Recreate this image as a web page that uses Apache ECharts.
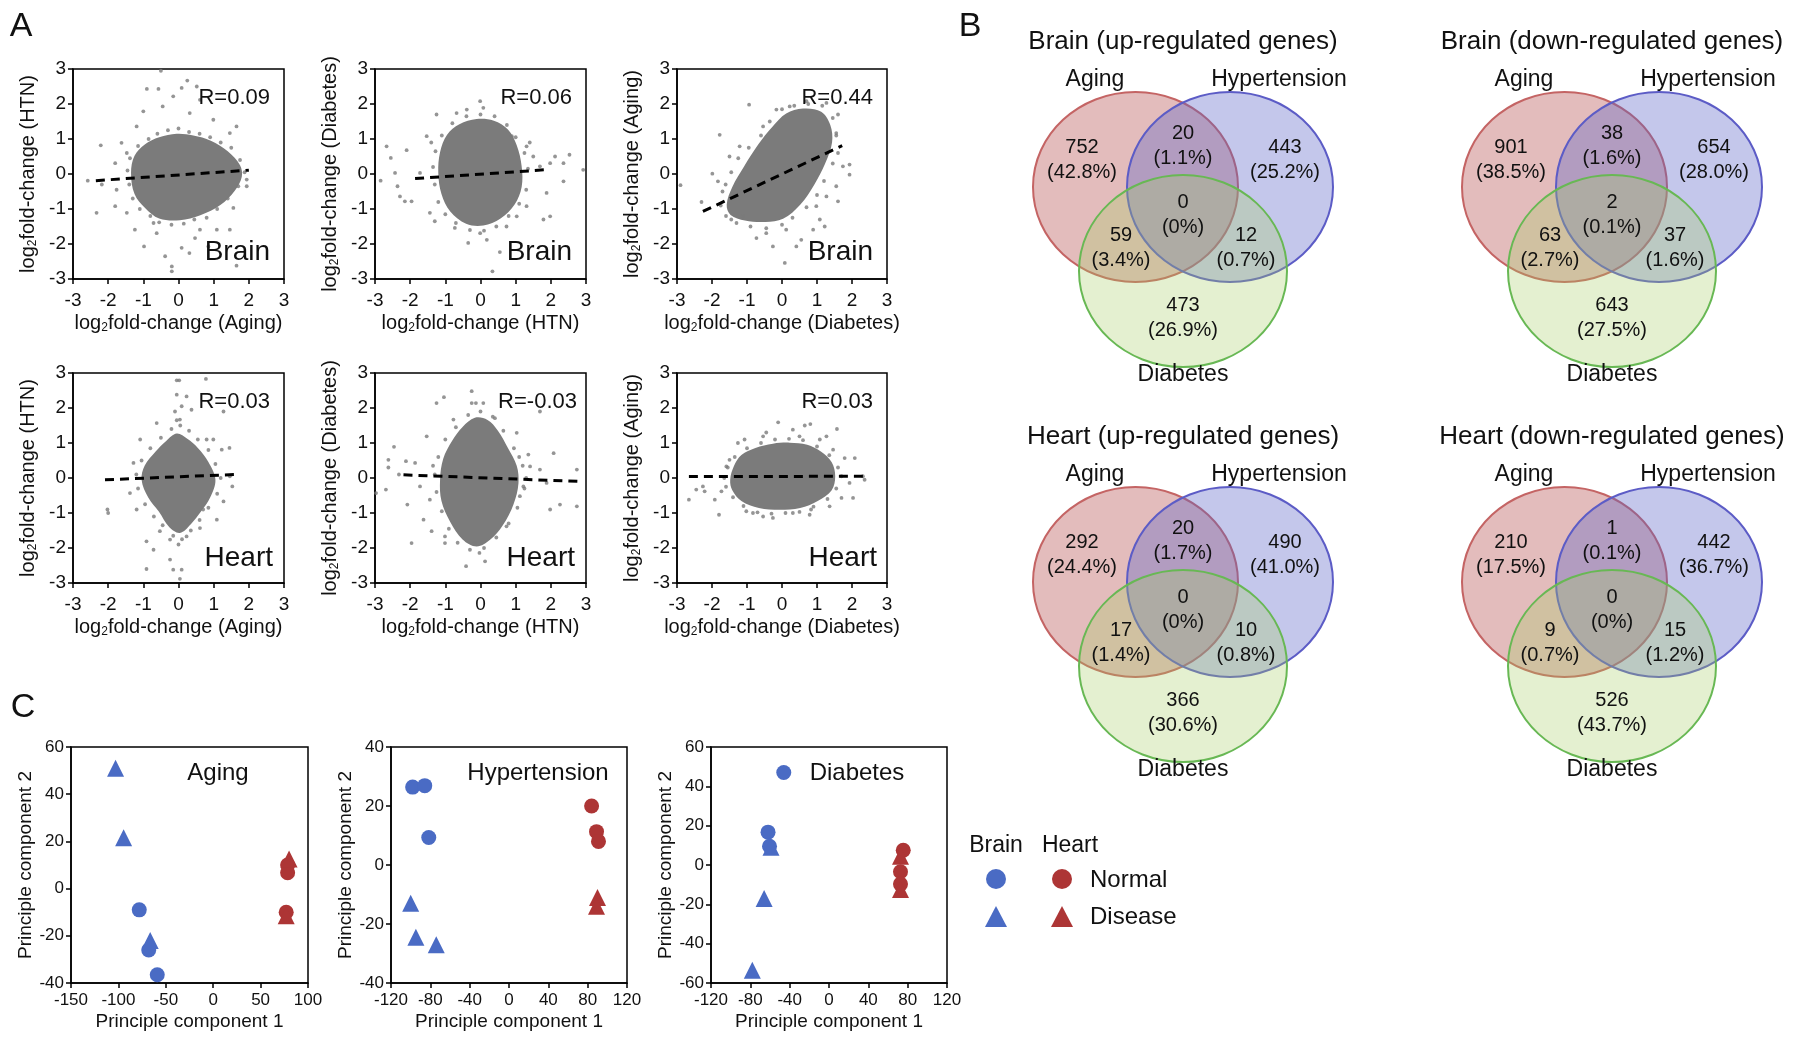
<!DOCTYPE html>
<html><head><meta charset="utf-8">
<script src="https://cdn.jsdelivr.net/npm/echarts@6/dist/echarts.min.js"></script>
<style>html,body{margin:0;padding:0;background:#fff}#c{width:1800px;height:1041px}</style>
</head><body><div id="c"></div>
<script>
// ---------------- DATA ----------------
// Panel A: dense-core outlines (data units), individual outlying points and edge points
const a1Core = [[-1.35,0.03],[-1.25,0.52],[-0.95,0.85],[-0.55,1.05],[-0.05,1.15],[0.42,1.10],[0.92,0.95],[1.40,0.65],[1.75,0.25],[1.80,-0.08],[1.60,-0.48],[1.20,-0.88],[0.62,-1.18],[0.04,-1.32],[-0.55,-1.27],[-0.95,-0.97],[-1.25,-0.57]];
const a1Pts = [[-0.5,2.95],[-0.9,2.43],[-0.57,2.43],[0.09,2.46],[0.25,2.67],[0.52,2.5],[-0.15,2.22],[-0.45,1.93],[-1.0,1.79],[-1.19,1.36],[-1.62,0.89],[-1.8,0.31],[-2.21,0.82],[-2.58,-0.19],[-2.33,-1.11],[-2.18,-0.3],[-1.76,-0.45],[-1.8,-0.92],[-1.24,-1.59],[-0.98,-2.07],[-0.62,-1.69],[-0.38,-2.35],[-0.19,-2.64],[-0.19,-2.78],[0.09,-2.11],[0.31,-2.26],[0.47,-1.83],[1.09,-1.59],[1.46,-1.59],[1.65,-2.62],[1.56,-0.97],[1.94,-0.16],[1.65,1.36],[1.46,1.17],[0.99,1.55],[0.61,2.12],[0.32,1.74],[0.85,-2.07],[1.94,-0.35],[0.61,-1.59],[-0.71,-1.40],[-1.47,-1.11],[-1.47,0.6]];
const a1Edge = [[-1.45,0.1],[-1.4,-0.3],[-1.38,0.45],[-1.3,-0.7],[-1.15,0.8],[-1.1,-1.0],[-0.85,1.0],[-0.8,-1.2],[-0.6,1.15],[-0.55,-1.38],[-0.3,1.25],[-0.2,-1.45],[0.0,1.3],[0.15,-1.42],[0.3,1.2],[0.45,-1.3],[0.6,1.15],[0.8,-1.25],[0.9,1.05],[1.1,-1.0],[1.2,0.9],[1.4,-0.7],[1.5,0.75],[1.7,-0.35],[1.75,0.4],[1.88,0.05]];
const a1Fit = [[-2.35,-0.19],[2.0,0.11]];

const a2Core = [[-1.2,0.03],[-1.15,0.62],[-0.95,1.12],[-0.6,1.42],[-0.11,1.57],[0.38,1.52],[0.78,1.27],[1.03,0.82],[1.17,0.22],[1.17,-0.37],[0.97,-0.87],[0.57,-1.27],[0.08,-1.47],[-0.41,-1.42],[-0.86,-1.07],[-1.11,-0.57]];
const a2Pts = [[-2.84,-0.19],[-2.67,0.79],[-2.55,0.46],[-2.43,0.03],[-2.36,-0.35],[-2.29,-0.64],[-2.1,0.68],[-2.15,-0.78],[-1.96,-0.78],[-1.72,0.03],[-1.53,1.08],[-1.25,1.70],[-1.44,-1.11],[-1.30,-1.35],[-0.73,-1.54],[-0.35,-1.97],[-0.01,-1.69],[0.18,-1.88],[0.55,-2.23],[0.34,-2.78],[-0.01,2.08],[0.08,1.89],[-0.68,1.74],[0.89,1.08],[1.31,0.79],[1.50,0.50],[1.69,0.22],[1.88,-0.54],[1.98,0.31],[2.12,0.50],[2.36,0.31],[2.53,0.55],[2.36,-0.21],[2.92,0.12],[1.79,-1.30],[1.98,-1.21],[1.31,-0.92],[1.03,-1.21],[0.74,-1.50],[-0.39,1.84]];
const a2Edge = [[-1.35,0.2],[-1.3,-0.3],[-1.28,0.65],[-1.2,-0.8],[-1.1,1.1],[-1.0,-1.15],[-0.8,1.45],[-0.7,-1.4],[-0.4,1.65],[-0.3,-1.6],[0.0,1.7],[0.1,-1.62],[0.4,1.65],[0.45,-1.5],[0.75,1.4],[0.8,-1.2],[1.0,1.05],[1.1,-0.85],[1.25,0.6],[1.3,-0.45],[1.35,0.15],[1.4,0.9],[-1.4,0.9]];
const a2Fit = [[-1.86,-0.13],[1.83,0.12]];

const a3Core = [[-1.58,-0.88],[-1.42,-0.37],[-1.08,0.22],[-0.68,0.84],[-0.28,1.34],[0.12,1.73],[0.60,1.87],[1.12,1.78],[1.38,1.40],[1.43,0.90],[1.23,0.29],[0.93,-0.29],[0.52,-0.88],[0.03,-1.28],[-0.47,-1.37],[-1.06,-1.33],[-1.47,-1.17]];
const a3Pts = [[-2.90,-0.32],[-2.30,-0.80],[-1.99,0.01],[-1.83,-0.21],[-1.78,1.12],[-1.61,-0.30],[-0.94,1.98],[-1.50,0.50],[-1.21,0.79],[-1.45,-1.30],[-0.73,-1.83],[-0.45,-1.69],[-0.26,-2.07],[0.08,-2.54],[0.41,-2.07],[0.55,-1.88],[0.12,-1.59],[0.89,-1.59],[1.08,-1.30],[1.22,-1.50],[1.60,-0.78],[1.55,-0.35],[1.93,0.27],[1.93,-0.02],[1.74,0.22],[1.60,1.70],[1.55,1.17],[1.27,2.03],[0.70,2.08],[0.22,1.93],[-0.16,1.84],[-0.54,1.36],[0.98,-0.92],[-1.11,-1.21],[1.27,-0.64]];
const a3Edge = [[-1.75,-0.9],[-1.7,-0.5],[-1.6,-1.2],[-1.45,0.05],[-1.3,-1.4],[-1.25,0.45],[-0.95,0.75],[-0.9,-1.5],[-0.6,1.1],[-0.45,-1.55],[-0.35,1.5],[0.0,-1.45],[0.0,1.85],[0.3,-1.25],[0.35,1.95],[0.7,-0.95],[0.75,2.0],[1.0,-0.6],[1.15,1.95],[1.2,-0.2],[1.45,1.6],[1.45,0.3],[1.55,1.1],[1.6,0.6]];
const a3Fit = [[-2.26,-1.07],[1.72,0.81]];

const a4Core = [[-1.05,-0.05],[-0.96,0.36],[-0.65,0.76],[-0.35,1.06],[-0.05,1.27],[0.25,1.12],[0.55,0.86],[0.85,0.46],[1.05,-0.05],[0.9,-0.56],[0.64,-0.96],[0.35,-1.32],[0.04,-1.57],[-0.26,-1.41],[-0.56,-0.96],[-0.86,-0.56]];
const a4Pts = [[-0.05,2.79],[0.02,2.79],[0.78,2.83],[-0.05,2.38],[0.23,2.33],[0.09,2.05],[-0.10,1.90],[0.37,1.95],[1.28,1.90],[0.04,1.67],[-0.62,1.57],[0.80,1.10],[0.99,1.10],[1.45,0.86],[1.23,0.81],[-1.09,1.10],[-1.28,0.43],[-2.02,-0.90],[-2.0,-1.0],[-1.19,-0.90],[-1.38,-0.43],[1.53,-0.24],[1.28,-0.67],[1.09,-1.19],[0.61,-1.43],[-0.91,-1.81],[-0.71,-2.05],[-0.91,-2.60],[-0.24,-2.33],[-0.15,-2.62],[0.09,-2.62],[0.04,-2.88],[-0.24,-1.76],[0.23,-1.67],[-0.53,-1.52],[0.70,-0.90],[1.46,0.05]];
const a4Edge = [[-1.2,0.1],[-1.15,-0.3],[-1.05,0.5],[-0.95,-0.75],[-0.8,0.85],[-0.7,-1.1],[-0.5,1.15],[-0.45,-1.35],[-0.2,1.4],[-0.15,-1.65],[0.05,1.5],[0.1,-1.75],[0.3,1.35],[0.35,-1.5],[0.55,1.1],[0.6,-1.2],[0.85,0.8],[0.85,-0.85],[1.05,0.4],[1.1,-0.45],[1.2,0.0],[0.0,-1.9],[-0.05,1.65]];
const a4Fit = [[-2.09,-0.05],[1.61,0.10]];

const a5Core = [[-1.15,-0.05],[-1.06,0.55],[-0.81,1.06],[-0.51,1.46],[-0.16,1.72],[0.20,1.66],[0.49,1.36],[0.78,0.86],[1.03,0.35],[1.08,-0.15],[0.94,-0.75],[0.63,-1.36],[0.28,-1.76],[-0.11,-1.96],[-0.51,-1.76],[-0.86,-1.26],[-1.11,-0.66]];
const a5Pts = [[-2.97,-0.43],[-2.62,0.52],[-2.62,0.30],[-2.46,0.89],[-2.69,-0.33],[-2.32,0.10],[-2.12,0.48],[-2.08,-0.76],[-1.96,-1.86],[-1.86,0.43],[-1.72,-0.24],[-1.62,-1.19],[-1.53,1.19],[-1.39,-1.52],[-1.25,2.14],[-1.04,2.31],[-1.01,-1.67],[-1.01,-1.86],[-1.44,-0.62],[-0.77,1.67],[-0.41,-2.52],[-0.25,2.14],[-0.25,2.48],[-0.13,2.14],[0.08,2.14],[-0.03,-2.14],[0.13,-2.38],[-0.16,-1.86],[0.41,1.71],[1.03,1.29],[1.36,0.67],[1.41,0.33],[1.69,0.24],[1.88,-0.14],[1.98,-0.90],[2.08,0.71],[2.26,-0.76],[2.74,0.24],[2.74,-0.81],[1.69,1.90],[1.12,-0.52],[1.22,-0.24],[0.74,-1.38]];
const a5Edge = [[-1.3,0.1],[-1.25,-0.4],[-1.2,0.6],[-1.1,-0.95],[-1.0,1.1],[-0.9,-1.45],[-0.7,1.45],[-0.65,-1.85],[-0.35,1.8],[-0.3,-2.05],[0.0,1.9],[0.1,-2.0],[0.35,1.75],[0.45,-1.7],[0.65,1.35],[0.8,-1.3],[0.95,0.85],[1.05,-0.85],[1.2,0.35],[1.25,-0.3],[1.3,0.0],[1.1,0.6],[-1.35,0.35]];
const a5Fit = [[-2.19,0.09],[2.88,-0.10]];

const a6Core = [[-1.48,-0.05],[-1.37,0.35],[-1.16,0.66],[-0.76,0.86],[-0.26,0.98],[0.22,1.01],[0.72,0.95],[1.12,0.75],[1.42,0.45],[1.52,0.05],[1.42,-0.35],[1.02,-0.66],[0.52,-0.86],[-0.07,-0.91],[-0.66,-0.86],[-1.16,-0.66],[-1.42,-0.35]];
const a6Pts = [[-2.66,-0.62],[-2.45,-0.33],[-2.26,-0.24],[-2.21,-0.38],[-1.92,-0.62],[-1.80,-1.05],[-1.73,-0.38],[-1.59,0.33],[-1.50,0.52],[-1.26,1.0],[-1.07,1.10],[-0.54,1.19],[-0.45,1.30],[-0.11,1.59],[0.31,1.38],[0.50,1.19],[0.65,1.50],[0.81,1.54],[1.08,1.10],[1.57,1.40],[1.46,0.81],[1.79,0.57],[2.08,0.57],[1.93,-0.14],[2.31,0.05],[2.36,-0.05],[1.70,-0.57],[2.03,-0.57],[1.36,-0.81],[0.79,-1.05],[0.83,-0.90],[-0.26,-1.14],[-0.54,-1.10],[-0.83,-1.0],[-1.02,-0.95],[0.31,-1.0],[1.27,1.19]];
const a6Edge = [[-1.65,0.0],[-1.6,-0.25],[-1.55,0.3],[-1.4,-0.55],[-1.35,0.6],[-1.1,-0.8],[-1.0,0.85],[-0.7,-0.98],[-0.6,1.0],[-0.3,-1.02],[-0.2,1.1],[0.1,-1.0],[0.2,1.12],[0.5,-0.97],[0.6,1.08],[0.9,-0.82],[1.0,0.9],[1.3,-0.6],[1.35,0.65],[1.55,-0.3],[1.6,0.3],[1.7,0.05]];
const a6Fit = [[-2.66,0.04],[2.46,0.05]];

const aRLabels = ['R=0.09','R=0.06','R=0.44','R=0.03','R=-0.03','R=0.03'];
const aTissues = ['Brain','Brain','Brain','Heart','Heart','Heart'];
const aXNames = ['Aging','HTN','Diabetes','Aging','HTN','Diabetes'];
const aYNames = ['HTN','Diabetes','Aging','HTN','Diabetes','Aging'];
const aTicks = [-3,-2,-1,0,1,2,3];

// Panel B: Venn counts, region order: Aging only, Aging∩HTN, HTN only, Aging∩Diab, all three, HTN∩Diab, Diab only
const vennSets = ['Aging','Hypertension','Diabetes'];
const vennTitles = ['Brain (up-regulated genes)','Brain (down-regulated genes)','Heart (up-regulated genes)','Heart (down-regulated genes)'];
const brainUpCounts = [752,20,443,59,0,12,473];
const brainUpPct = ['42.8%','1.1%','25.2%','3.4%','0%','0.7%','26.9%'];
const brainDownCounts = [901,38,654,63,2,37,643];
const brainDownPct = ['38.5%','1.6%','28.0%','2.7%','0.1%','1.6%','27.5%'];
const heartUpCounts = [292,20,490,17,0,10,366];
const heartUpPct = ['24.4%','1.7%','41.0%','1.4%','0%','0.8%','30.6%'];
const heartDownCounts = [210,1,442,9,0,15,526];
const heartDownPct = ['17.5%','0.1%','36.7%','0.7%','0%','1.2%','43.7%'];

// Panel C: PCA coordinates
const agingBrainNormal = [[-78,-9],[-68,-26],[-59,-36.5]];
const agingBrainDisease = [[-103,51],[-94.5,21.5],[-66.5,-22]];
const agingHeartNormal = [[78.5,10],[78.5,6.7],[77,-10]];
const agingHeartDisease = [[80,12.5],[77,-11.5]];
const htnBrainNormal = [[-98,26.4],[-85.7,26.9],[-81.6,9.3]];
const htnBrainDisease = [[-100,-13],[-94.7,-24.5],[-74,-27]];
const htnHeartNormal = [[84,20],[89,11.3],[91,8]];
const htnHeartDisease = [[90,-11],[89,-14]];
const diabBrainNormal = [[-46,47],[-62,16.7],[-60.5,9.5]];
const diabBrainDisease = [[-59,9],[-66,-17],[-78,-53.5]];
const diabHeartNormal = [[75.5,7.5],[72.7,-3.4],[72.7,-9.7]];
const diabHeartDisease = [[72.7,4.5],[72.7,-12.5]];
const pcaTitles = ['Aging','Hypertension','Diabetes'];
const pcaXRanges = [[-150,100,50],[-120,120,40],[-120,120,40]];
const pcaYRanges = [[-40,60,20],[-40,40,20],[-60,60,20]];

// ---------------- LAYOUT / STYLE ----------------
const FONT = '"Liberation Sans", Arial, Helvetica, sans-serif';
const GRAY = '#7b7b7b';
const BLUE = '#4a6bc4';
const RED = '#ad3535';
const aGrids = [
  {left:73, top:69, width:211, height:210},
  {left:375, top:69, width:211, height:210},
  {left:677, top:69, width:210, height:210},
  {left:73, top:373, width:211, height:210},
  {left:375, top:373, width:211, height:210},
  {left:677, top:373, width:210, height:210}];
const aRInset = [14,14,14,14,9,14];
const aTInset = [14,14,14,11,11,10];
const cGrids = [
  {left:71, top:747, width:237, height:236},
  {left:391, top:747, width:236, height:236},
  {left:711, top:747, width:236, height:236}];

const aCores = [a1Core,a2Core,a3Core,a4Core,a5Core,a6Core];
const aPts = [a1Pts,a2Pts,a3Pts,a4Pts,a5Pts,a6Pts];
const aEdges = [a1Edge,a2Edge,a3Edge,a4Edge,a5Edge,a6Edge];
const aFits = [a1Fit,a2Fit,a3Fit,a4Fit,a5Fit,a6Fit];

const grids = [], xAxes = [], yAxes = [], series = [], graphics = [];
const richName = {
  a:{fontSize:20, fontFamily:FONT, color:'#111', lineHeight:22},
  s:{fontSize:12, fontFamily:FONT, color:'#111', lineHeight:12, verticalAlign:'bottom'}
};
const logName = t => '{a|log}{s|2}{a|fold-change (' + t + ')}';
function baseAxis(gi, min, max, interval, fs, margin) {
  return {
    gridIndex: gi, type:'value', min:min, max:max, interval:interval,
    axisLine:{show:true, onZero:false, lineStyle:{color:'#000', width:1.5}},
    axisTick:{show:true, inside:false, length:5, lineStyle:{color:'#000', width:1.5}},
    axisLabel:{fontSize:fs, color:'#111', fontFamily:FONT, margin:margin},
    splitLine:{show:false}, nameLocation:'middle'
  };
}

// Panel A
aGrids.forEach((g, i) => {
  grids.push(Object.assign({show:true, borderColor:'#000', borderWidth:1.5, containLabel:false, outerBoundsMode:'none'}, g));
  const xa = baseAxis(i, aTicks[0], aTicks[aTicks.length-1], 1, 19, 12);
  xa.name = logName(aXNames[i]); xa.nameGap = 33; xa.nameTextStyle = {rich: richName};
  const ya = baseAxis(i, aTicks[0], aTicks[aTicks.length-1], 1, 19, 7);
  ya.name = logName(aYNames[i]); ya.nameGap = 34; ya.nameRotate = 90; ya.nameTextStyle = {rich: richName};
  xAxes.push(xa); yAxes.push(ya);
  const core = aCores[i];
  series.push({
    type:'custom', xAxisIndex:i, yAxisIndex:i, data:core, silent:true, clip:true, z:1,
    renderItem:(params, api) => {
      if (params.dataIndex !== 0) return null;
      return {type:'polygon', shape:{points: core.map(p => api.coord(p)), smooth:0.35}, style:{fill:GRAY}};
    }
  });
  series.push({type:'scatter', xAxisIndex:i, yAxisIndex:i, data:aPts[i], symbolSize:3.8, silent:true, z:2,
    itemStyle:{color:GRAY}});
  series.push({type:'scatter', xAxisIndex:i, yAxisIndex:i, data:aEdges[i], symbolSize:3.8, silent:true, z:2,
    itemStyle:{color:GRAY}});
  series.push({type:'line', xAxisIndex:i, yAxisIndex:i, data:aFits[i], symbol:'none', silent:true, z:3,
    lineStyle:{color:'#000', width:3, type:[9,6]}});
  const right = g.left + g.width;
  graphics.push({type:'text', x: right - aRInset[i], y: g.top + 29, z:10,
    style:{text:aRLabels[i], font:'22px ' + FONT, fill:'#111', align:'right', verticalAlign:'middle', textAlign:'right', textVerticalAlign:'middle'}});
  graphics.push({type:'text', x: right - aTInset[i], y: g.top + (i < 3 ? 183 : 185), z:10,
    style:{text:aTissues[i], font:'28px ' + FONT, fill:'#111', align:'right', verticalAlign:'middle', textAlign:'right', textVerticalAlign:'middle'}});
});

// Panel C
const pcaGroups = [
  [agingBrainNormal, agingBrainDisease, agingHeartNormal, agingHeartDisease],
  [htnBrainNormal, htnBrainDisease, htnHeartNormal, htnHeartDisease],
  [diabBrainNormal, diabBrainDisease, diabHeartNormal, diabHeartDisease]];
const pcaTitleX = [218, 538, 857];
cGrids.forEach((g, k) => {
  const gi = grids.length;
  grids.push(Object.assign({show:true, borderColor:'#000', borderWidth:1.5, containLabel:false, outerBoundsMode:'none'}, g));
  const xr = pcaXRanges[k], yr = pcaYRanges[k];
  const xa = baseAxis(gi, xr[0], xr[1], xr[2], 17, 9);
  xa.name = 'Principle component 1'; xa.nameGap = 29; xa.nameTextStyle = {fontSize:19, fontFamily:FONT, color:'#111'};
  const ya = baseAxis(gi, yr[0], yr[1], yr[2], 17, 7);
  ya.name = 'Principle component 2'; ya.nameGap = 34; ya.nameRotate = 90; ya.nameTextStyle = {fontSize:19, fontFamily:FONT, color:'#111'};
  xAxes.push(xa); yAxes.push(ya);
  const grp = pcaGroups[k];
  const specs = [['circle',15,BLUE],['triangle',17,BLUE],['circle',15,RED],['triangle',17,RED]];
  grp.forEach((d, j) => {
    series.push({type:'scatter', xAxisIndex:gi, yAxisIndex:gi, data:d, symbol:specs[j][0], symbolSize:specs[j][1],
      itemStyle:{color:specs[j][2], opacity:1}, silent:true, z:2+j});
  });
  graphics.push({type:'text', x: pcaTitleX[k], y: 773, z:10,
    style:{text:pcaTitles[k], font:'24px ' + FONT, fill:'#111', align:'center', verticalAlign:'middle', textAlign:'center', textVerticalAlign:'middle'}});
});

// Panel letters
[['A',21,27],['B',970,27],['C',23,708]].forEach(L => {
  graphics.push({type:'text', x:L[1], y:L[2], z:10,
    style:{text:L[0], font:'34px ' + FONT, fill:'#111', align:'center', verticalAlign:'middle', textAlign:'center', textVerticalAlign:'middle'}});
});

// Panel B Venn diagrams
const vennEllipses = [
  {cx:1135.5, cy:187, rx:102.5, ry:95, fill:'rgba(185,88,88,0.40)', stroke:'rgba(196,100,100,1)'},
  {cx:1230, cy:187, rx:103, ry:95, fill:'rgba(92,100,200,0.36)', stroke:'rgba(92,92,198,1)'},
  {cx:1183, cy:271, rx:104, ry:96, fill:'rgba(165,205,100,0.30)', stroke:'rgba(104,184,84,1)'}];
const regionPos = [[1082,147],[1183,133],[1285,147],[1121,235],[1183,202],[1246,235],[1183,305]];
const setLabelPos = [[1095,80],[1279,80],[1183,375]];
const vennOffsets = [[0,0],[429,0],[0,395],[429,395]];
const vennCounts = [brainUpCounts, brainDownCounts, heartUpCounts, heartDownCounts];
const vennPcts = [brainUpPct, brainDownPct, heartUpPct, heartDownPct];
function txt(t, x, y, size) {
  return {type:'text', x:x, y:y, z:20,
    style:{text:t, font:size + 'px ' + FONT, fill:'#111', align:'center', verticalAlign:'middle', textAlign:'center', textVerticalAlign:'middle'}};
}
vennOffsets.forEach((o, v) => {
  const dx = o[0], dy = o[1];
  graphics.push(txt(vennTitles[v], 1183 + dx, 42 + dy, 26));
  vennEllipses.forEach(e => {
    graphics.push({type:'ellipse', z:5, shape:{cx:e.cx + dx, cy:e.cy + dy, rx:e.rx, ry:e.ry},
      style:{fill:e.fill, stroke:e.stroke, lineWidth:2}});
  });
  setLabelPos.forEach((p, s) => graphics.push(txt(vennSets[s], p[0] + dx, p[1] + dy, 23)));
  regionPos.forEach((p, r) => {
    graphics.push(txt(String(vennCounts[v][r]), p[0] + dx, p[1] + dy, 20));
    graphics.push(txt('(' + vennPcts[v][r] + ')', p[0] + dx, p[1] + 25 + dy, 20));
  });
});

// Panel C legend
graphics.push(txt('Brain', 996, 846, 23));
graphics.push(txt('Heart', 1070, 846, 23));
graphics.push({type:'circle', z:10, shape:{cx:996, cy:879, r:10}, style:{fill:BLUE}});
graphics.push({type:'circle', z:10, shape:{cx:1062, cy:879, r:10}, style:{fill:RED}});
graphics.push({type:'polygon', z:10, shape:{points:[[996,906],[1007,927],[985,927]]}, style:{fill:BLUE}});
graphics.push({type:'polygon', z:10, shape:{points:[[1062,906],[1073,927],[1051,927]]}, style:{fill:RED}});
graphics.push({type:'text', x:1090, y:880, z:10, style:{text:'Normal', font:'24px ' + FONT, fill:'#111', align:'left', verticalAlign:'middle', textAlign:'left', textVerticalAlign:'middle'}});
graphics.push({type:'text', x:1090, y:917, z:10, style:{text:'Disease', font:'24px ' + FONT, fill:'#111', align:'left', verticalAlign:'middle', textAlign:'left', textVerticalAlign:'middle'}});

const chart = echarts.init(document.getElementById('c'), null, {renderer:'canvas'});
chart.setOption({
  animation:false,
  backgroundColor:'#fff',
  textStyle:{fontFamily:FONT},
  grid:grids, xAxis:xAxes, yAxis:yAxes, series:series,
  graphic:{elements:graphics}
});
</script></body></html>
